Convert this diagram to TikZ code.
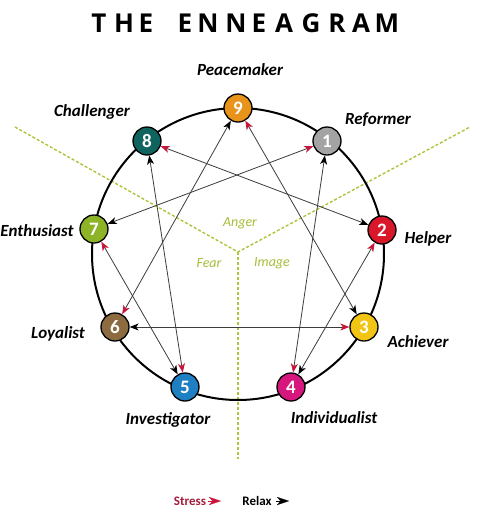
\documentclass[tikz,border=0pt]{standalone}
\usepackage{fontspec}
\setmainfont{Carlito}
\newfontfamily\titlefont{Open Sans}
\usetikzlibrary{arrows.meta}
\definecolor{cnine}{HTML}{E8941A}
\definecolor{cone}{HTML}{A3A3A3}
\definecolor{ctwo}{HTML}{D9172B}
\definecolor{cthree}{HTML}{F2C515}
\definecolor{cfour}{HTML}{D6177E}
\definecolor{cfive}{HTML}{1F7FC3}
\definecolor{csix}{HTML}{8C6B40}
\definecolor{cseven}{HTML}{8DB426}
\definecolor{ceight}{HTML}{10645F}
\definecolor{gline}{HTML}{AFC43C}
\definecolor{gtext}{HTML}{A5BE3A}
\definecolor{stressred}{HTML}{C8163A}
\definecolor{legred}{HTML}{A31D3C}
\definecolor{linegray}{HTML}{3C3C3C}
\begin{document}
\begin{tikzpicture}[x=1pt,y=-1pt,
  num/.style={circle,draw=black,line width=1.3pt,minimum size=28pt,inner sep=0pt,text=white,font=\bfseries\fontsize{19}{19}\selectfont},
  lbl/.style={font=\bfseries\itshape\fontsize{17}{17}\selectfont,inner sep=0pt},
  zone/.style={font=\itshape\fontsize{14}{14}\selectfont,text=gtext,inner sep=0pt},
  ttl/.style={font=\titlefont\bfseries\fontsize{26}{26}\selectfont,inner sep=0pt},
  dashline/.style={draw=gline,line width=1.4pt,dash pattern=on 3pt off 2pt},
  lk/.style={draw=linegray,line width=0.8pt,{Stealth[black,length=9pt,width=7pt,inset=2.5pt]}-{Stealth[stressred,length=9pt,width=7pt,inset=2.5pt]}},
  legtxt/.style={font=\bfseries\fontsize{13}{13}\selectfont,inner sep=0pt}]
\useasboundingbox (0,0) rectangle (480,515);
\fill[white] (0,0) rectangle (480,515);
% title
\foreach \l/\x [count=\i] in {T/99,H/124,E/146,E/185,N/208,N/236,E/259,A/284,G/311,R/337,A/361,M/387}
  \node[ttl] (t\i) at (\x,23) {\l};
% zones
\coordinate (ctr) at (238,252);
\coordinate (dl) at (15,127);
\coordinate (dr) at (470,127);
\coordinate (db) at (238,459);
\draw[dashline] (dl) -- (ctr) -- (dr);
\draw[dashline] (ctr) -- (db);
% big circle
\coordinate (cc) at (238,254);
\draw[black,line width=2pt] (cc) circle (146);
% numbers
\node[num,fill=cnine] (n9) at (238,108) {9};
\node[num,fill=cone] (n1) at (327,141) {1};
\node[num,fill=ctwo] (n2) at (382,230) {2};
\node[num,fill=cthree] (n3) at (364,327) {3};
\node[num,fill=cfour] (n4) at (291,387) {4};
\node[num,fill=cfive] (n5) at (185,387) {5};
\node[num,fill=csix] (n6) at (115,327) {6};
\node[num,fill=cseven] (n7) at (94,229) {7};
\node[num,fill=ceight] (n8) at (147,141) {8};
% connectors: black tip at start (relax), red tip at end (stress)
\draw[lk] (n1) -- (n4);
\draw[lk] (n4) -- (n2);
\draw[lk] (n2) -- (n8);
\draw[lk] (n8) -- (n5);
\draw[lk] (n5) -- (n7);
\draw[lk] (n7) -- (n1);
\draw[lk] (n3) -- (n9);
\draw[lk] (n6) -- (n3);
\draw[lk] (n9) -- (n6);
% labels
\node[lbl] (l9) at (240,70) {Peacemaker};
\node[lbl] (l1) at (378,120) {Reformer};
\node[lbl] (l8) at (92,112) {Challenger};
\node[lbl] (l2) at (428,239) {Helper};
\node[lbl] (l7) at (37,231) {Enthusiast};
\node[lbl] (l6) at (58,334) {Loyalist};
\node[lbl] (l3) at (418,342) {Achiever};
\node[lbl] (l5) at (168,420) {Investigator};
\node[lbl] (l4) at (334,418) {Individualist};
\node[zone] (za) at (240,223) {Anger};
\node[zone] (zf) at (209,263) {Fear};
\node[zone] (zi) at (272,263) {Image};
% legend
\node[legtxt,text=legred] (ls) at (190,501) {Stress};
\coordinate (sa) at (208,501);
\coordinate (sb) at (221,501);
\draw[stressred,line width=0.1pt,-{Stealth[length=12pt,width=8pt,inset=3.5pt]}] (sa) -- (sb);
\node[legtxt,text=black] (lr) at (257,501) {Relax};
\coordinate (ra) at (276,501);
\coordinate (rb) at (289,501);
\draw[black,line width=0.1pt,-{Stealth[length=12pt,width=8pt,inset=3.5pt]}] (ra) -- (rb);
\end{tikzpicture}
\end{document}
